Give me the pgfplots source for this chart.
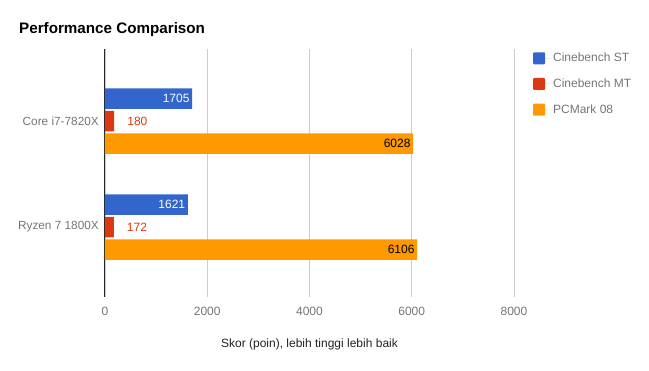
\documentclass[border=0pt]{standalone}
\usepackage{pgfplots}
\pgfplotsset{compat=1.18}
\usepackage{fontspec}
\setmainfont{Liberation Sans}
\definecolor{cblue}{HTML}{3366CC}
\definecolor{cred}{HTML}{DC3912}
\definecolor{corange}{HTML}{FF9900}
\definecolor{tgrey}{HTML}{757575}
\definecolor{tdark}{HTML}{222222}
\definecolor{gridc}{HTML}{CCCCCC}
\begin{document}
\begin{tikzpicture}[x=1pt,y=1pt]
\path (0,0) rectangle (649,371);
\node[anchor=base west, inner sep=0pt, font=\fontsize{15.2}{18}\selectfont\bfseries] at (19,337) {Performance Comparison};
\begin{axis}[
 at={(105pt,74pt)}, anchor=south west,
 scale only axis, width=409pt, height=248pt,
 xbar, bar width=20.5pt,
 xmin=0, xmax=8000, ymin=-0.66, ymax=1.68,
 xtick={0,2000,4000,6000,8000},
 ytick={0,1}, yticklabels={Ryzen 7 1800X, Core i7-7820X},
 major tick length=0pt,
 xmajorgrids, grid style={gridc, line width=0.8pt},
 axis line style={draw=none},
 extra x ticks={0}, extra x tick labels={},
 extra x tick style={grid style={black!85, line width=1pt}},
 scaled x ticks=false,
 /pgf/number format/assume math mode=true,
 /pgf/number format/1000 sep={},
 xticklabel style={anchor=base, inner sep=0pt, yshift=-19pt, text=tgrey, font=\fontsize{12}{14}\selectfont},
 yticklabel style={anchor=east, inner sep=0pt, xshift=-6pt, text=tgrey, font=\fontsize{11.8}{14}\selectfont},
 xlabel={Skor (poin), lebih tinggi lebih baik},
 xlabel style={at={(axis description cs:0.5,0)}, anchor=center, yshift=-47pt, text=tdark, font=\fontsize{12}{14}\selectfont},
 legend style={at={(axis description cs:1.039,1)}, anchor=north west, draw=none, fill=none,
   font=\fontsize{12}{14}\selectfont, text=tgrey, row sep=11.5pt},
 legend cell align=left,
 legend image code/.code={\fill[#1, rounded corners=1pt] (0pt,-6pt) rectangle (12pt,6pt);
   \path (0pt,0pt) -- (18pt,0pt);},
 nodes near coords,
 every node near coord/.append style={font=\fontsize{12}{14}\selectfont, inner sep=0pt},
]
\addplot[fill=cblue, draw=none, bar shift=22.5pt,
  every node near coord/.append style={anchor=east, xshift=-2.5pt, text=white}]
  coordinates {(1705,1) (1621,0)};
\addlegendentry{Cinebench ST}
\addplot[fill=cred, draw=none, bar shift=0pt,
  every node near coord/.append style={anchor=west, xshift=13pt, text=cred}]
  coordinates {(180,1) (172,0)};
\addlegendentry{Cinebench MT}
\addplot[fill=corange, draw=none, bar shift=-22.5pt,
  every node near coord/.append style={anchor=east, xshift=-2.5pt, text=black}]
  coordinates {(6028,1) (6106,0)};
\addlegendentry{PCMark 08}
\end{axis}
\end{tikzpicture}
\end{document}
